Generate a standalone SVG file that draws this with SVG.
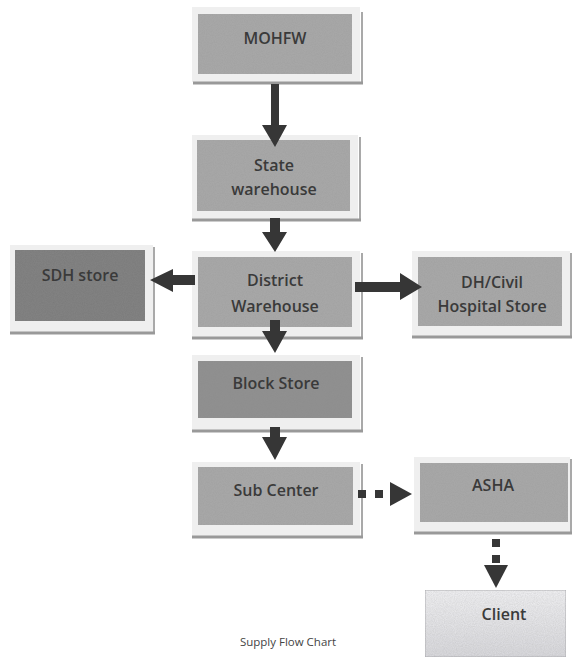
<svg xmlns="http://www.w3.org/2000/svg" width="573" height="658" viewBox="0 0 573 658">
<defs>
<filter id="grain" x="0" y="0" width="100%" height="100%">
<feTurbulence type="fractalNoise" baseFrequency="0.9" numOctaves="2" seed="3" result="n"/>
<feColorMatrix in="n" type="matrix" values="0 0 0 0 0.3  0 0 0 0 0.3  0 0 0 0 0.3  0 0 0 0.35 0" result="g"/>
<feComposite in="g" in2="SourceGraphic" operator="in" result="gc"/>
<feMerge><feMergeNode in="SourceGraphic"/><feMergeNode in="gc"/></feMerge>
</filter>
<linearGradient id="clientGrad" x1="0" y1="0" x2="0" y2="1">
<stop offset="0" stop-color="#f4f4f6"/>
<stop offset="1" stop-color="#dcdce0"/>
</linearGradient>
</defs>
<style>
.frame{fill:#efefef;}
.mid{fill:#a9a9a9;filter:url(#grain);}
.dark{fill:#7a7a7a;filter:url(#grain);}
.block{fill:#8e8e8e;filter:url(#grain);}
.client{fill:url(#clientGrad);stroke:#b4b4b8;stroke-width:1;filter:url(#grain);}
.edge{stroke:#8c8c8c;stroke-width:1.5;fill:none;}
.shadow{stroke:#999;stroke-width:3;fill:none;}
.lbl{font-family:"Open Sans","Liberation Sans",sans-serif;font-weight:600;font-size:16px;fill:#3a3a3a;text-anchor:middle;}
.cap{font-family:"Open Sans","Liberation Sans",sans-serif;font-size:11.5px;fill:#444;text-anchor:middle;}
.arr{fill:#363636;}
</style>
<rect width="573" height="658" fill="#ffffff"/>

<g id="mohfw">
<rect class="frame" x="192" y="7" width="168" height="75"/>
<rect class="mid" x="198" y="14" width="154" height="60"/>
<path class="edge" d="M362,12 V84"/>
<path class="shadow" d="M193,83 H363"/>
<text class="lbl" x="275" y="44">MOHFW</text>
</g>

<g id="state">
<rect class="frame" x="192" y="135" width="166" height="84"/>
<rect class="mid" x="197" y="140" width="153" height="71"/>
<path class="edge" d="M360,137 V221"/>
<path class="shadow" d="M192,220 H361"/>
<text class="lbl" x="274" y="171">State</text>
<text class="lbl" x="274" y="195">warehouse</text>
</g>

<g id="sdh">
<rect class="frame" x="10" y="245" width="143" height="87"/>
<rect class="dark" x="15" y="250" width="130" height="71"/>
<path class="edge" d="M154,247 V334"/>
<path class="shadow" d="M10,333 H155"/>
<text class="lbl" x="80" y="281">SDH store</text>
</g>

<g id="district">
<rect class="frame" x="192" y="251" width="168" height="86"/>
<rect class="mid" x="198" y="257" width="154" height="70"/>
<path class="edge" d="M362,253 V339"/>
<path class="shadow" d="M192,338 H363"/>
<text class="lbl" x="275" y="286">District</text>
<text class="lbl" x="275" y="312">Warehouse</text>
</g>

<g id="dh">
<rect class="frame" x="412" y="251" width="158" height="85"/>
<rect class="mid" x="418" y="257" width="144" height="69"/>
<path class="edge" d="M571,253 V338"/>
<path class="shadow" d="M412,337 H572"/>
<text class="lbl" x="492" y="288">DH/Civil</text>
<text class="lbl" x="492" y="312">Hospital Store</text>
</g>

<g id="block">
<rect class="frame" x="192" y="355" width="168" height="75"/>
<rect class="block" x="198" y="361" width="154" height="57"/>
<path class="edge" d="M362,357 V432"/>
<path class="shadow" d="M192,431 H363"/>
<text class="lbl" x="276" y="389">Block Store</text>
</g>

<g id="subcenter">
<rect class="frame" x="192" y="462" width="168" height="74"/>
<rect class="mid" x="198" y="467" width="155" height="58"/>
<path class="edge" d="M362,464 V538"/>
<path class="shadow" d="M192,537 H363"/>
<text class="lbl" x="276" y="496">Sub Center</text>
</g>

<g id="asha">
<rect class="frame" x="414" y="457" width="156" height="75"/>
<rect class="mid" x="420" y="463" width="148" height="59"/>
<path class="edge" d="M571,459 V534"/>
<path class="shadow" d="M414,533 H572"/>
<text class="lbl" x="493" y="491">ASHA</text>
</g>

<g id="client">
<rect class="client" x="425" y="590" width="141" height="67"/>
<text class="lbl" x="504" y="620">Client</text>
</g>

<g id="connectors">
<path class="arr" d="M271,84 H279 V125 H287 L275,147 L262,125 H271 Z"/>
<path class="arr" d="M270,218 H280 V232 H287 L275,252 L262,232 H270 Z"/>
<path class="arr" d="M195,275 V285 H173 V292 L150,280 L173,269 V275 Z"/>
<path class="arr" d="M355,282 H400 V273 L422,287 L400,300 V292 H355 Z"/>
<path class="arr" d="M270,320 H280 V331 H287 L275,353 L262,331 H270 Z"/>
<path class="arr" d="M270,427 H280 V437 H287 L275,460 L262,437 H270 Z"/>
<rect class="arr" x="358" y="490" width="8" height="8"/>
<rect class="arr" x="375" y="490" width="8" height="8"/>
<path class="arr" d="M390,482 L412,494 L390,506 Z"/>
<rect class="arr" x="492" y="539" width="8" height="8"/>
<rect class="arr" x="492" y="555" width="8" height="8"/>
<path class="arr" d="M484,565 L508,565 L496,588 Z"/>
</g>

<text class="cap" x="288" y="646">Supply Flow Chart</text>
</svg>
